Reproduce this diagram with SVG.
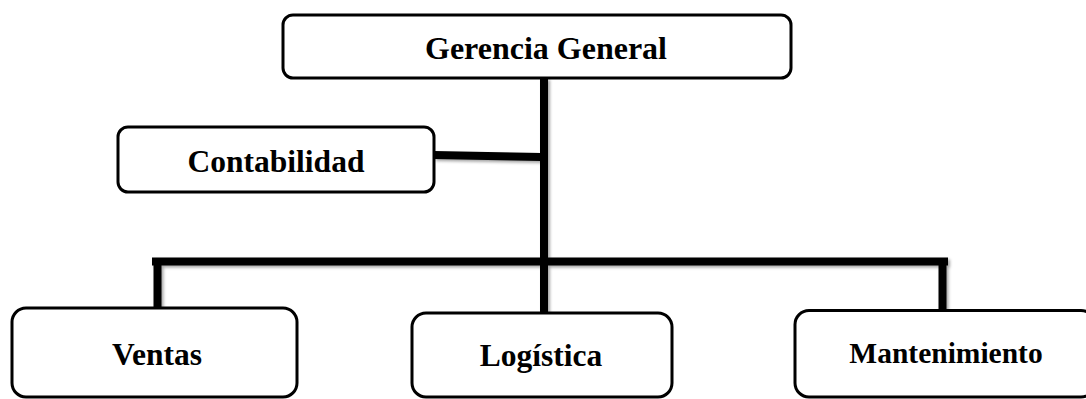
<svg xmlns="http://www.w3.org/2000/svg" width="1086" height="399" viewBox="0 0 1086 399">
<defs>
<filter id="shadow" x="-5%" y="-20%" width="110%" height="140%">
<feDropShadow dx="2" dy="2" stdDeviation="1.5" flood-color="#000" flood-opacity="0.35"/>
</filter>
</defs>
<style>
.box{fill:#fff;stroke:#000;stroke-width:3}
.lbl{font-family:"Liberation Serif","Times New Roman",serif;font-weight:bold;fill:#000;text-anchor:middle}
.ln{stroke:#000;stroke-width:8;fill:none;stroke-linecap:butt}
</style>
<rect width="1086" height="399" fill="#fff"/>
<g id="connectors" filter="url(#shadow)">
<line class="ln" x1="544" y1="78" x2="544" y2="313"/>
<line class="ln" x1="434" y1="155" x2="541" y2="157"/>
<line class="ln" x1="152" y1="261.5" x2="948" y2="261.5"/>
<line class="ln" x1="157.5" y1="258" x2="157.5" y2="308"/>
<line class="ln" x1="942.5" y1="258" x2="942.5" y2="310"/>
</g>
<g id="gerencia">
<rect class="box" x="283" y="15" width="508" height="63" rx="10"/>
<text class="lbl" x="546" y="59" font-size="32">Gerencia General</text>
</g>
<g id="contabilidad">
<rect class="box" x="118" y="127" width="316" height="65" rx="10"/>
<text class="lbl" x="276" y="172" font-size="31.5">Contabilidad</text>
</g>
<g id="ventas">
<rect class="box" x="12" y="308" width="285" height="89" rx="14"/>
<text class="lbl" x="157" y="365" font-size="31.5">Ventas</text>
</g>
<g id="logistica">
<rect class="box" x="412" y="313" width="260" height="84" rx="14"/>
<text class="lbl" x="541" y="366" font-size="31.5">Logística</text>
</g>
<g id="mantenimiento">
<rect class="box" x="795" y="310.5" width="300" height="86.5" rx="14"/>
<text class="lbl" x="946" y="363" font-size="29.5">Mantenimiento</text>
</g>
</svg>
